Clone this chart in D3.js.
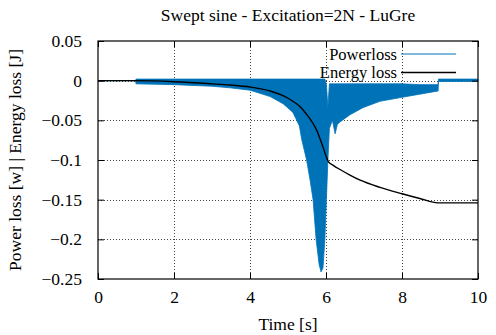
<!DOCTYPE html>
<html>
<head>
<meta charset="utf-8">
<script src="https://cdn.jsdelivr.net/npm/d3@7"></script>
<style>
  body { margin: 0; background: #fff; }
  text { font-family: "Liberation Serif", "DejaVu Serif", serif; font-size: 17.5px; fill: #000; }
</style>
</head>
<body>
<div class="chart"></div>
<script>
// tick values
const timeTicks = [0, 2, 4, 6, 8, 10];
const lossTicks = [0.05, 0, -0.05, -0.1, -0.15, -0.2, -0.25];

// power loss envelope (dense oscillation read as upper / lower bound)
const powerTime  = [0, 0.99, 1.0, 2, 3, 3.47, 4, 4.53, 4.87, 5.13, 5.3, 5.36, 5.49, 5.58, 5.66, 5.74, 5.82, 5.87, 5.92, 5.97, 6.01, 6.05, 6.09, 6.17, 6.24, 6.3, 6.37, 6.63, 6.97, 7.42, 8.0, 8.47, 8.95, 8.96, 10];
const powerUpper = [0, 0, 0.002, 0.002, 0.002, 0.002, 0.002, 0.002, 0.002, 0.002, 0.002, 0.002, 0.002, 0.002, 0.002, 0.002, 0.002, 0.002, 0.002, 0.002, -0.005, -0.034, -0.004, -0.004, -0.004, -0.004, -0.004, -0.004, -0.004, -0.004, -0.004, -0.005, -0.005, 0.002, 0.002];
const powerLower = [0, 0, -0.004, -0.005, -0.007, -0.009, -0.012, -0.020, -0.029, -0.040, -0.057, -0.074, -0.1, -0.125, -0.15, -0.2, -0.232, -0.241, -0.236, -0.2, -0.15, -0.1, -0.06, -0.05, -0.067, -0.055, -0.052, -0.043, -0.034, -0.026, -0.021, -0.017, -0.013, -0.001, -0.001];

// energy loss curve
const energyTime  = [0, 1, 2, 3, 3.47, 4, 4.53, 4.87, 5.1, 5.3, 5.5, 5.66, 5.76, 5.84, 5.93, 6.0, 6.06, 6.2, 6.37, 6.63, 6.9, 7.42, 8, 8.47, 8.95, 10];
const energyValue = [0, 0, -0.0013, -0.004, -0.0055, -0.008, -0.013, -0.019, -0.025, -0.032, -0.043, -0.054, -0.063, -0.073, -0.085, -0.095, -0.102, -0.107, -0.112, -0.119, -0.1255, -0.1345, -0.1425, -0.1485, -0.154, -0.154];

const seriesNames = ["Powerloss", "Energy loss"];

const w = 496, h = 335;
const margin = { top: 41, right: 18, bottom: 56, left: 98 };
const blue = "#0072b8";

const xScale = d3.scaleLinear()
    .domain([0, 10])
    .range([margin.left, w - margin.right]);

const yScale = d3.scaleLinear()
    .domain([-0.25, 0.05])
    .range([h - margin.bottom, margin.top]);

const svg = d3.select("div.chart")
    .append("svg")
    .attr("width", w)
    .attr("height", h);

// grid
const grid = svg.append("g")
    .attr("stroke", "#444")
    .attr("stroke-width", 1)
    .attr("stroke-dasharray", "1,2");

grid.selectAll("line.gx")
    .data(timeTicks.slice(1, -1))
    .enter()
    .append("line")
    .attr("x1", d => Math.round(xScale(d)) + 0.5)
    .attr("x2", d => Math.round(xScale(d)) + 0.5)
    .attr("y1", yScale(0.05))
    .attr("y2", yScale(-0.25));

grid.selectAll("line.gy")
    .data(lossTicks.slice(1, -1))
    .enter()
    .append("line")
    .attr("y1", d => Math.round(yScale(d)) + 0.5)
    .attr("y2", d => Math.round(yScale(d)) + 0.5)
    .attr("x1", xScale(0))
    .attr("x2", xScale(10));

// power loss band
const powerData = powerTime.map((t, i) => ({ t: t, hi: powerUpper[i], lo: powerLower[i] }));
const area = d3.area()
    .x(d => xScale(d.t))
    .y0(d => yScale(d.lo))
    .y1(d => yScale(d.hi));

svg.append("path")
    .datum(powerData)
    .attr("d", area)
    .attr("fill", blue)
    .attr("stroke", blue)
    .attr("stroke-width", 0.8);

// energy loss line
const energyData = energyTime.map((t, i) => ({ t: t, v: energyValue[i] }));
const line = d3.line()
    .x(d => xScale(d.t))
    .y(d => yScale(d.v))
    .curve(d3.curveMonotoneX);

svg.append("path")
    .datum(energyData)
    .attr("d", line)
    .attr("fill", "none")
    .attr("stroke", "#000")
    .attr("stroke-width", 1.4);

// axes with inward ticks, mirrored on top / right
const xAxis = d3.axisBottom(xScale).tickValues(timeTicks).tickSize(-6).tickPadding(12).tickFormat(d3.format("d"));
svg.append("g")
    .attr("transform", "translate(0," + yScale(-0.25) + ")")
    .call(xAxis);

const xTop = d3.axisTop(xScale).tickValues(timeTicks).tickSize(-6).tickFormat("");
svg.append("g")
    .attr("transform", "translate(0," + yScale(0.05) + ")")
    .call(xTop);

const yAxis = d3.axisLeft(yScale).tickValues(lossTicks).tickSize(-6).tickPadding(16).tickFormat(d => d === 0 ? "0" : d3.format("")(+d.toFixed(2)));
svg.append("g")
    .attr("transform", "translate(" + xScale(0) + ",0)")
    .call(yAxis);

const yRight = d3.axisRight(yScale).tickValues(lossTicks).tickSize(-6).tickFormat("");
svg.append("g")
    .attr("transform", "translate(" + xScale(10) + ",0)")
    .call(yRight);

svg.selectAll(".domain").remove();
svg.selectAll(".tick line").attr("stroke", "#000");
svg.selectAll(".tick text").style("font-size", "17.5px").attr("fill", "#000");

// frame
svg.append("rect")
    .attr("x", xScale(0))
    .attr("y", yScale(0.05))
    .attr("width", xScale(10) - xScale(0))
    .attr("height", yScale(-0.25) - yScale(0.05))
    .attr("fill", "none")
    .attr("stroke", "#000")
    .attr("stroke-width", 1.2);

// titles
svg.append("text")
    .attr("x", (xScale(0) + xScale(10)) / 2)
    .attr("y", 21)
    .attr("text-anchor", "middle")
    .text("Swept sine - Excitation=2N - LuGre");

svg.append("text")
    .attr("x", (xScale(0) + xScale(10)) / 2)
    .attr("y", 330)
    .attr("text-anchor", "middle")
    .text("Time [s]");

svg.append("text")
    .attr("transform", "translate(21," + (yScale(0.05) + yScale(-0.25)) / 2 + ") rotate(-90)")
    .attr("text-anchor", "middle")
    .text("Power loss [w] | Energy loss [J]");

// legend
const legendColors = [blue, "#000"];
const legend = svg.selectAll("g.legend")
    .data(seriesNames)
    .enter()
    .append("g")
    .attr("transform", (d, i) => "translate(0," + (54 + i * 18.5) + ")");

legend.append("text")
    .attr("x", 397)
    .attr("dy", "0.35em")
    .attr("text-anchor", "end")
    .style("font-size", "16.5px")
    .text(d => d);

legend.append("line")
    .attr("x1", 401)
    .attr("x2", 456)
    .attr("stroke", (d, i) => legendColors[i])
    .attr("stroke-width", (d, i) => i === 0 ? 1 : 1.4);
</script>
</body>
</html>
